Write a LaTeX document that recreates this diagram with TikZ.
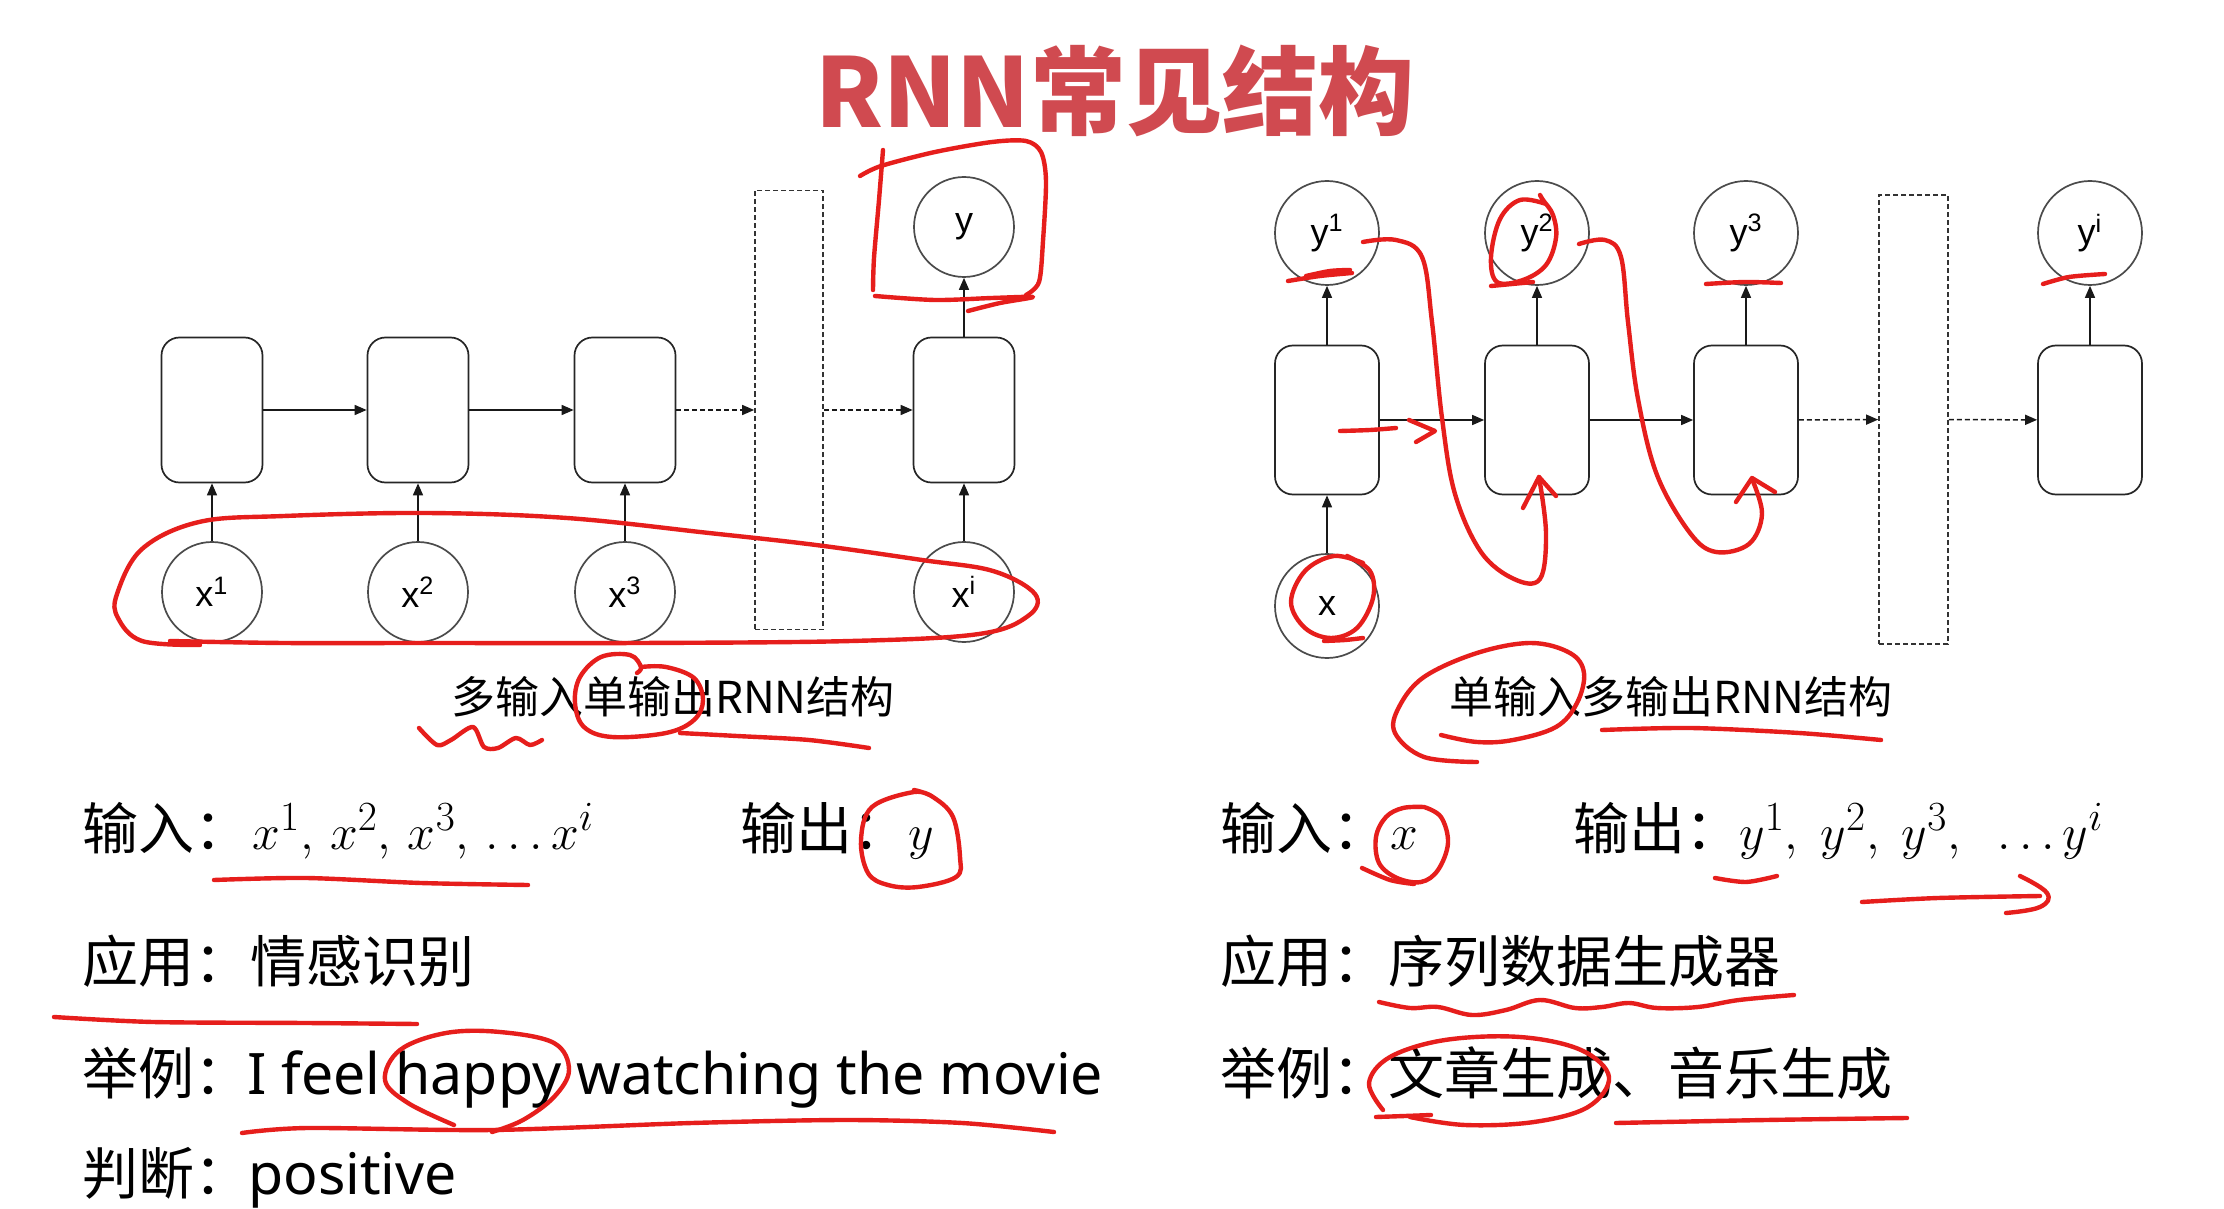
\documentclass[tikz,border=0pt]{standalone}
\usepackage{fontspec}
\setmainfont{Noto Sans}
\newfontfamily\cjk{Noto Sans CJK SC}
\newfontfamily\lab{Liberation Sans}
\usetikzlibrary{arrows.meta}
\definecolor{titlered}{RGB}{208,74,80}
\definecolor{inkred}{RGB}{230,30,28}
\definecolor{circgray}{RGB}{75,75,75}
\begin{document}
\begin{tikzpicture}[x=0.5pt,y=-0.5pt,
 cellL/.style={draw=black!85, line width=0.85pt, rounded corners=9pt, minimum width=50.5pt, minimum height=72.5pt, inner sep=0pt},
 cellR/.style={cellL, minimum width=52pt, minimum height=74.5pt},
 dbox/.style={draw=black!80, line width=0.85pt, dash pattern=on 2.5pt off 1.5pt, inner sep=0pt},
 unit/.style={circle, draw=circgray, line width=0.85pt, minimum size=50pt, inner sep=0pt, font=\lab\fontsize{18}{20}\selectfont},
 unitR/.style={unit, minimum size=52pt},
 conn/.style={-{Triangle[length=6pt,width=5pt]}, line width=0.75pt, draw=black!90},
 dconn/.style={conn, dash pattern=on 2.5pt off 1.5pt},
 txt/.style={anchor=base west, inner sep=0pt, font=\fontsize{28}{33}\selectfont},
 lat/.style={txt, font=\fontsize{28.6}{33}\selectfont},
 captext/.style={anchor=base, inner sep=0pt, font=\cjk\fontsize{22}{26}\selectfont},
 ink/.style={draw=inkred, line width=2.2pt, line cap=round, line join=round}
]
\fill[white] (0,0) rectangle (2224,1209);
\path[use as bounding box] (0,0) rectangle (2224,1209);

% title
\node[anchor=base, inner sep=0pt, text=titlered, font=\cjk\bfseries\fontsize{48}{56}\selectfont] (title) at (1115,128) {RNN常见结构};

% ---------- left diagram ----------
\node[cellL] (A1) at (212,410) {};
\node[cellL] (A2) at (418,410) {};
\node[cellL] (A3) at (625,410) {};
\node[dbox, minimum width=34pt, minimum height=219.5pt] (AD) at (789,410) {};
\node[cellL] (A4) at (964,410) {};
\node[unit] (X1) at (212,592) {x\textsuperscript{1}};
\node[unit] (X2) at (418,592) {x\textsuperscript{2}};
\node[unit] (X3) at (625,592) {x\textsuperscript{3}};
\node[unit] (XI) at (964,592) {x\textsuperscript{i}};
\node[unit] (Y) at (964,227) {y};
\draw[conn] (X1) -- (A1);
\draw[conn] (X2) -- (A2);
\draw[conn] (X3) -- (A3);
\draw[conn] (XI) -- (A4);
\draw[conn] (A4) -- (Y);
\draw[conn] (A1) -- (A2);
\draw[conn] (A2) -- (A3);
\draw[dconn] (A3) -- (AD);
\draw[dconn] (AD) -- (A4);
\node[captext] (capL) at (673,713) {多输入单输出RNN结构};

% ---------- right diagram ----------
\node[cellR] (B1) at (1327,420) {};
\node[cellR] (B2) at (1537,420) {};
\node[cellR] (B3) at (1746,420) {};
\node[dbox, minimum width=34.5pt, minimum height=224.5pt] (BD) at (1913.5,419.5) {};
\node[cellR] (B4) at (2090,420) {};
\node[unitR] (Y1) at (1327,233) {y\textsuperscript{1}};
\node[unitR] (Y2) at (1537,233) {y\textsuperscript{2}};
\node[unitR] (Y3) at (1746,233) {y\textsuperscript{3}};
\node[unitR] (YI) at (2090,233) {y\textsuperscript{i}};
\node[unitR] (XR) at (1327,606) {x};
\draw[conn] (XR) -- (B1);
\draw[conn] (B1) -- (Y1);
\draw[conn] (B2) -- (Y2);
\draw[conn] (B3) -- (Y3);
\draw[conn] (B4) -- (YI);
\draw[conn] (B1) -- (B2);
\draw[conn] (B2) -- (B3);
\draw[dconn] (B3) -- (BD);
\draw[dconn] (BD) -- (B4);
\node[captext] (capR) at (1671,713) {单输入多输出RNN结构};

% ---------- bottom text ----------
\node[txt] (l1a) at (82,849) {\cjk 输入：};
\node[txt] (l1b) at (252,849) {$x^1,\, x^2,\, x^3,\, \ldots x^i$};
\node[txt] (l1c) at (740,849) {\cjk 输出：};
\node[txt] (l1d) at (908,849) {$y$};
\node[txt] (l2) at (82,982) {\cjk 应用：情感识别};
\node[txt] (l3a) at (82,1094) {\cjk 举例：};
\node[lat] (l3b) at (247,1094) {I feel happy watching the movie};
\node[txt] (l4a) at (82,1194) {\cjk 判断：};
\node[lat] (l4b) at (248,1194) {positive};

\node[txt] (r1a) at (1220,849) {\cjk 输入：};
\node[txt] (r1b) at (1390,849) {$x$};
\node[txt] (r1c) at (1573,849) {\cjk 输出：};
\node[txt] (r1d) at (1739,849) {$y^1,\; y^2,\; y^3,\; \ \ldots y^i$};
\node[txt] (r2) at (1220,982) {\cjk 应用：序列数据生成器};
\node[txt] (r3) at (1220,1094) {\cjk 举例：文章生成、音乐生成};

% ---------- red annotations ----------
\draw[ink] plot[smooth,tension=0.5] coordinates {(860,176)(881,166)(935,152)(992,142)(1026,141)(1041,152)(1046,181)(1043,241)(1039,282)(1026,295)};
\draw[ink] plot[smooth,tension=0.5] coordinates {(883,150)(879,200)(874,258)(873,290)};
\draw[ink] plot[smooth,tension=0.5] coordinates {(875,296)(935,300)(992,298)(1033,297)(1000,303)(968,311)};
\draw[ink] plot[smooth,tension=0.6] coordinates {(200,645)(142,641)(118,618)(117,594)(142,549)(199,522)(284,516)(426,513)(567,518)(709,533)(816,545)(922,560)(993,571)(1035,594)(1028,616)(979,634)(851,641)(638,643)(426,643)(284,643)(170,641)};
\draw[ink] plot[smooth,tension=0.6] coordinates {(641,667)(666,667)(694,678)(703,700)(694,720)(666,733)(612,737)(584,727)(575,703)(580,677)(601,657)(630,655)(641,667)(637,673)};
\draw[ink] plot[smooth,tension=0.5] coordinates {(419,728)(437,745)(451,740)(473,727)(484,747)(498,748)(516,738)(530,745)(542,740)};
\draw[ink] plot[smooth,tension=0.5] coordinates {(680,733)(737,736)(809,740)(869,748)};
\draw[ink] plot[smooth] coordinates {(1288,281)(1320,276)(1352,273)};
\draw[ink] plot[smooth] coordinates {(1306,276)(1330,271)(1350,270)};
\draw[ink] plot[smooth,tension=0.6] coordinates {(1363,242)(1396,240)(1422,257)(1432,322)(1442,418)(1455,494)(1481,552)(1514,579)(1540,579)(1546,533)(1539,477)};
\draw[ink] (1523,508) -- (1539,477) -- (1556,496);
\draw[ink] plot[smooth,tension=0.6] coordinates {(1546,204)(1520,200)(1500,219)(1491,257)(1497,282)(1523,280)(1546,265)(1556,238)(1553,215)(1543,200)(1540,195)};
\draw[ink] plot[smooth] coordinates {(1491,286)(1512,284)(1533,282)};
\draw[ink] plot[smooth,tension=0.6] coordinates {(1579,244)(1605,240)(1621,257)(1628,322)(1638,399)(1657,475)(1690,533)(1716,552)(1749,544)(1762,514)(1752,479)};
\draw[ink] (1736,502) -- (1752,478) -- (1775,492);
\draw[ink] plot[smooth] coordinates {(1706,284)(1745,282)(1781,283)};
\draw[ink] plot[smooth] coordinates {(2043,284)(2069,277)(2105,274)};
\draw[ink] plot[smooth] coordinates {(1340,431)(1370,430)(1396,428)};
\draw[ink] (1409,420) -- (1435,431) -- (1416,442);
\draw[ink] plot[smooth,tension=0.6] coordinates {(1363,563)(1334,556)(1305,571)(1291,602)(1305,628)(1331,638)(1357,628)(1373,598)(1370,571)(1347,556)};
\draw[ink] plot[smooth] coordinates {(1324,641)(1345,640)(1363,638)};
\draw[ink] plot[smooth,tension=0.6] coordinates {(1477,762)(1424,757)(1395,733)(1399,707)(1424,677)(1477,653)(1531,643)(1570,653)(1584,673)(1577,703)(1556,727)(1513,740)(1477,742)(1441,735)};
\draw[ink] plot[smooth,tension=0.5] coordinates {(1602,730)(1691,728)(1799,733)(1881,740)};
\draw[ink] plot[smooth] coordinates {(214,880)(306,878)(421,883)(528,885)};
\draw[ink] plot[smooth,tension=0.6] coordinates {(933,797)(914,792)(872,807)(861,840)(868,873)(888,885)(918,887)(956,877)(960,857)(953,817)(933,797)(914,790)};
\draw[ink] plot[smooth] coordinates {(54,1017)(153,1022)(306,1023)(417,1024)};
\draw[ink] plot[smooth,tension=0.6] coordinates {(454,1125)(408,1103)(385,1080)(400,1050)(446,1033)(500,1032)(554,1043)(569,1070)(554,1097)(523,1120)(492,1132)};
\draw[ink] plot[smooth] coordinates {(242,1133)(308,1128)(492,1130)(692,1123)(846,1120)(962,1123)(1054,1132)};
\draw[ink] plot[smooth,tension=0.6] coordinates {(1424,807)(1403,808)(1386,817)(1376,837)(1379,863)(1397,878)(1421,882)(1438,870)(1448,843)(1441,817)(1424,807)};
\draw[ink] plot[smooth] coordinates {(1362,868)(1390,880)(1414,884)};
\draw[ink] plot[smooth] coordinates {(1715,878)(1746,882)(1777,876)};
\draw[ink] plot[smooth] coordinates {(1862,902)(1938,898)(2040,896)};
\draw[ink] plot[smooth,tension=0.7] coordinates {(2020,876)(2047,893)(2040,907)(2006,913)};
\draw[ink] plot[smooth,tension=0.6] coordinates {(1379,1002)(1410,1008)(1438,1007)(1472,1015)(1506,1010)(1540,1000)(1575,1008)(1602,1007)(1629,1003)(1657,1008)(1698,1007)(1739,1000)(1794,995)};
\draw[ink] plot[smooth,tension=0.6] coordinates {(1383,1110)(1369,1083)(1390,1057)(1445,1040)(1520,1037)(1581,1050)(1609,1077)(1588,1107)(1534,1122)(1465,1125)(1410,1117)};
\draw[ink] plot[smooth] coordinates {(1376,1117)(1405,1116)(1431,1115)};
\draw[ink] plot[smooth] coordinates {(1616,1123)(1766,1120)(1907,1118)};
\end{tikzpicture}
\end{document}
